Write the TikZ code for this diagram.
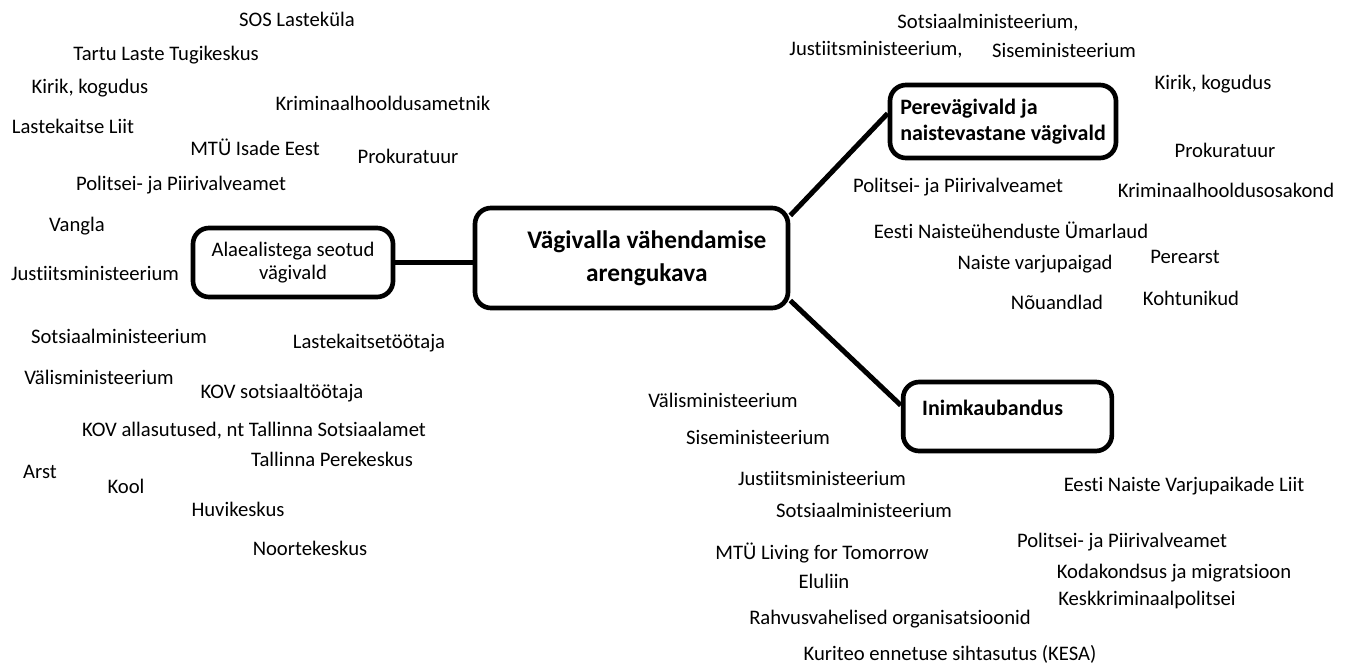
\documentclass[tikz,border=0pt]{standalone}
\usepackage{fontspec}
\setmainfont{Carlito}[Ligatures=NoCommon]
\usepackage{tikz}

\tikzset{
    lbl/.style={inner sep=0pt, font=\fontsize{15.5}{18}\selectfont},
    topic/.style={draw, line width=3.5pt, rounded corners=12pt, inner sep=0pt},
    link/.style={line width=3.75pt},
}

\begin{document}
\begin{tikzpicture}[x=0.75pt, y=-0.75pt]
    \useasboundingbox (0,0) rectangle (1351,663);

    % Central plan and the three topics
    \node[topic, minimum width=234.75pt, minimum height=75pt,
          font=\bfseries\fontsize{19}{25}\selectfont] (plan) at (631.5,258)
          {\hspace*{23pt}\begin{tabular}{@{}c@{}}Vägivalla vähendamise\\arengukava\end{tabular}};
    \node[topic, minimum width=150pt, minimum height=51.75pt, align=center,
          font=\fontsize{15.5}{17}\selectfont] (minors) at (293,262.5)
          {Alaealistega seotud\\vägivald};
    \node[topic, minimum width=169.5pt, minimum height=54.75pt, align=left,
          font=\bfseries\fontsize{16.5}{20}\selectfont] (family) at (1003,121.5)
          {Perevägivald ja\\naistevastane vägivald};
    \node[topic, text width=128pt, inner xsep=14.25pt, minimum height=51.75pt, align=left,
          text height=12pt, text depth=14pt,
          font=\bfseries\fontsize{16.5}{20}\selectfont] (traffic) at (1007.5,416.5)
          {Inimkaubandus};

    % Branches
    \draw[link] (minors.east) -- (minors.east -| plan.west);
    \draw[link] (plan.15) -- (family.176);
    \draw[link] (plan.-15) -- (traffic.174);

    % Partners of the minors topic
    \foreach \x/\y/\t [count=\i] in {
        297/19/SOS Lasteküla, 166/55/Tartu Laste Tugikeskus, 90/88/{Kirik, kogudus},
        383/103/Kriminaalhooldusametnik, 73/126/Lastekaitse Liit, 255/147/MTÜ Isade Eest,
        408/156/Prokuratuur, 181/185/Politsei- ja Piirivalveamet, 77/226/Vangla,
        95/273/Justiitsministeerium, 119/336/Sotsiaalministeerium, 369/343/Lastekaitsetöötaja,
        99/377/Välisministeerium, 282/393/KOV sotsiaaltöötaja,
        254/431/{KOV allasutused, nt Tallinna Sotsiaalamet}, 332/459/Tallinna Perekeskus,
        40/472/Arst, 126/486/Kool, 238/509/Huvikeskus, 310/548/Noortekeskus} {
        \node[lbl] (m\i) at (\x,\y) {\t};
    }

    % Partners of the family violence topic
    \foreach \x/\y/\t [count=\i] in {
        988/23/{Sotsiaalministeerium,}, 876/50/{Justiitsministeerium,}, 1064/50/Siseministeerium,
        1213/84/{Kirik, kogudus}, 1225/150/Prokuratuur, 958/187/Politsei- ja Piirivalveamet,
        1226/190/Kriminaalhooldusosakond, 1011/230/Eesti Naisteühenduste Ümarlaud,
        1035/264/Naiste varjupaigad, 1185/257/Perearst, 1057/302/Nõuandlad,
        1191/298/Kohtunikud} {
        \node[lbl] (f\i) at (\x,\y) {\t};
    }

    % Partners of the trafficking topic
    \foreach \x/\y/\t [count=\i] in {
        723/400/Välisministeerium, 758/437/Siseministeerium, 822/478/Justiitsministeerium,
        864/510/Sotsiaalministeerium, 1184/486/Eesti Naiste Varjupaikade Liit,
        1122/542/Politsei- ja Piirivalveamet, 822/553/MTÜ Living for Tomorrow,
        824/581/Eluliin, 1174/573/Kodakondsus ja migratsioon, 1147/600/Keskkriminaalpolitsei,
        890/619/Rahvusvahelised organisatsioonid, 950/654/Kuriteo ennetuse sihtasutus (KESA)} {
        \node[lbl] (t\i) at (\x,\y) {\t};
    }
\end{tikzpicture}
\end{document}
